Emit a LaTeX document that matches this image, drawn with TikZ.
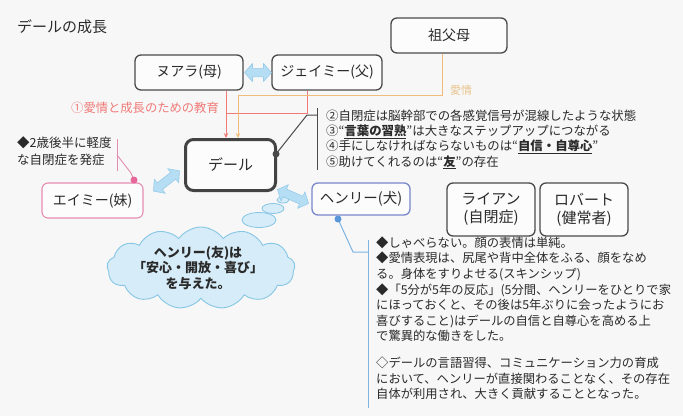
\documentclass[tikz,border=0pt]{standalone}
\usepackage{fontspec}
\setmainfont{Noto Sans CJK JP}
\usetikzlibrary{shapes.arrows,shapes.symbols,shapes.geometric,arrows.meta,calc}
\definecolor{bg}{HTML}{F7F7F7}
\definecolor{boxline}{HTML}{4A4A4A}
\definecolor{redl}{HTML}{F07A78}
\definecolor{orl}{HTML}{F2BC7A}
\definecolor{orltext}{HTML}{E8C48E}
\definecolor{arrfill}{HTML}{B5DDF3}
\definecolor{arrdraw}{HTML}{98CCEA}
\definecolor{pinkl}{HTML}{E48DB0}
\definecolor{pinkdot}{HTML}{E8679A}
\definecolor{henryb}{HTML}{7A88CC}
\definecolor{henryl}{HTML}{7DB4E2}
\definecolor{henrydot}{HTML}{5A96DA}
\definecolor{cloudfill}{HTML}{D6ECF8}
\definecolor{clouddraw}{HTML}{86C6E4}
\definecolor{txt}{HTML}{2A2A2A}
\tikzset{
  person/.style={draw=boxline, line width=1.3pt, rounded corners=6pt, fill=white!60!bg, text=txt,
    font=\fontsize{14}{17}\selectfont, align=center, inner sep=0pt},
  fatarrowstyle/.style={fill=arrfill, draw=arrdraw, line width=0.6pt, line join=round},
  bubble/.style={ellipse, fill=cloudfill, draw=clouddraw, line width=0.8pt, inner sep=0pt},
  note/.style={text=txt, align=left, anchor=north west, inner sep=0pt,
    font=\fontsize{12.5}{15.5}\selectfont},
  redarrow/.style={draw=redl, line width=1pt, -{Stealth[length=5pt,width=4.5pt]}},
  orarrow/.style={draw=orl, line width=1pt, -{Stealth[length=5pt,width=4.5pt]}},
}
% fat double arrow: center x, center y, angle, length
\newcommand{\fatarr}[4]{%
  \begin{scope}[shift={(#1,#2)},rotate=#3]
  \pgfmathsetmacro\hl{#4/2}
  \filldraw[fatarrowstyle] (-\hl,0) -- (-\hl+8,-9) -- (-\hl+8,-4.2) -- (\hl-8,-4.2) -- (\hl-8,-9)
    -- (\hl,0) -- (\hl-8,9) -- (\hl-8,4.2) -- (-\hl+8,4.2) -- (-\hl+8,9) -- cycle;
  \end{scope}}
\begin{document}
\begin{tikzpicture}[x=1pt,y=-1pt]
\path[use as bounding box, fill=bg] (0,0) rectangle (683,416);

% title
\node[anchor=west, text=txt, font=\fontsize{15}{18}\selectfont, inner sep=0pt] (title) at (17,27) {デールの成長};

% people
\node[person, minimum width=108pt, minimum height=35pt] (nuala) at (189,72.5) {ヌアラ(母)};
\node[person, minimum width=110pt, minimum height=35pt] (jamie) at (327,72.5) {ジェイミー(父)};
\node[person, minimum width=116pt, minimum height=35pt] (grand) at (449,35.5) {祖父母};
\node[person, draw=boxline!90!black, line width=3pt, rounded corners=8pt, minimum width=90pt, minimum height=51pt, font=\fontsize{15}{18}\selectfont] (dale) at (230.5,165) {デール};
\node[person, draw=pinkl, line width=1.1pt, minimum width=101pt, minimum height=35pt] (amy) at (92.5,200.5) {エイミー(妹)};
\node[person, draw=henryb, line width=1.3pt, minimum width=98pt, minimum height=32pt, font=\fontsize{14.5}{17}\selectfont] (henry) at (361,199) {ヘンリー(犬)};
\node[person, minimum width=88pt, minimum height=53pt, font=\fontsize{15}{18}\selectfont] (ryan) at (491,209.5) {ライアン\\(自閉症)};
\node[person, minimum width=88pt, minimum height=53pt, font=\fontsize{15}{18}\selectfont] (robert) at (584,209.5) {ロバート\\(健常者)};

% thought bubbles and cloud
\node[bubble, minimum width=7pt, minimum height=4pt] (b0) at (289,193) {};
\node[bubble, minimum width=12pt, minimum height=6pt] (b1) at (283,200) {};
\node[bubble, minimum width=22pt, minimum height=10pt] (b2) at (273,208.5) {};
\node[bubble, minimum width=34pt, minimum height=15pt] (b3) at (259,220) {};
\node[cloud, cloud puffs=13, cloud puff arc=110, aspect=2.3, fill=cloudfill, draw=clouddraw, line width=0.9pt,
  minimum width=188pt, minimum height=82pt, inner sep=0pt] (cloud) at (201,268) {};
\node[text=txt, align=center, font=\fontsize{13}{15.8}\bfseries\selectfont, inner sep=0pt] (ctext) at (198,268) {ヘンリー(友)は\\「安心・開放・喜び」\\を与えた。};

% fat double arrows
\coordinate (a1) at ($(nuala.east)!0.5!(jamie.west)$);
\path (a1); \pgfgetlastxy{\axx}{\ayy}
\fatarr{258}{72.5}{0}{27}
\fatarr{166.5}{181}{38}{33}
\fatarr{293}{196.5}{-24}{34}

% education lines (red)
\coordinate (rx) at (226,0);
\coordinate (jx) at (307,0);
\coordinate (ry) at (0,113);
\draw[redarrow] (nuala.south -| rx) -- (dale.north -| rx);
\draw[draw=redl, line width=1pt] (jamie.south -| jx) -- (jx |- ry) -- (rx |- ry);
\node[anchor=east, text=redl, font=\fontsize{12.3}{15}\selectfont, inner sep=0pt] (edu) at (219,108) {①愛情と成長のための教育};

% love line (orange)
\coordinate (ox) at (442,0);
\coordinate (ox2) at (238,0);
\coordinate (oy) at (0,95);
\draw[orarrow] (grand.south -| ox) -- (ox |- oy) -- (ox2 |- oy) -- (dale.north -| ox2);
\node[anchor=west, text=orltext, font=\fontsize{11}{13}\selectfont, inner sep=0pt] (love) at (450,90) {愛情};

% Dale annotation
\coordinate (dd) at ($(dale.east)+(-1,-11)$);
\coordinate (db1) at (307,115);
\coordinate (db2) at (317,115);
\coordinate (dbt) at (317,108);
\coordinate (dbb) at (317,170);
\draw[boxline, line width=1pt] (dd) -- (db1) -- (db2);
\draw[boxline, line width=1pt] (dbt) -- (dbb);
\fill[boxline] (dd) circle (3.5pt);
\node[note, font=\fontsize{12.4}{15.3}\selectfont] (dnote) at (326,109.5) {②自閉症は脳幹部での各感覚信号が混線したような状態\\
③“\underline{\textbf{言葉の習熟}}”は大きなステップアップにつながる\\
④手にしなければならないものは“\underline{\textbf{自信・自尊心}}”\\
⑤助けてくれるのは“\underline{\textbf{友}}”の存在};

% Amy annotation
\coordinate (ad) at (134,180);
\coordinate (av1) at (117,139);
\coordinate (av2) at (117,171);
\coordinate (av3) at (117,155);
\coordinate (av4) at (131,173);
\draw[pinkl, line width=0.9pt] (av1) -- (av2);
\draw[pinkl, line width=0.9pt] (av3) -- (av4) -- (ad);
\fill[pinkdot] (ad) circle (3.5pt);
\node[note, font=\fontsize{12.5}{17}\selectfont] (anote) at (17,136) {◆2歳後半に軽度\\な自閉症を発症};

% Henry annotation
\coordinate (hd) at (338,219);
\coordinate (h1) at (353,252);
\coordinate (h2) at (368,252);
\coordinate (ht) at (368,240);
\coordinate (hb) at (368,408);
\draw[henryl, line width=1pt] (hd) -- (h1) -- (h2);
\draw[henryl, line width=1pt] (ht) -- (hb);
\fill[henrydot] (hd) circle (3.5pt);
\node[note, font=\fontsize{12.3}{15.6}\selectfont] (hnote) at (376,236.5) {◆しゃべらない。顔の表情は単純。\\
◆愛情表現は、尻尾や背中全体をふる、顔をなめ\\
る。身体をすりよせる(スキンシップ)\\
◆「5分が5年の反応」(5分間、ヘンリーをひとりで家\\
にほっておくと、その後は5年ぶりに会ったようにお\\
喜びすること)はデールの自信と自尊心を高める上\\
で驚異的な働きをした。\\[11pt]
◇デールの言語習得、コミュニケーション力の育成\\
において、ヘンリーが直接関わることなく、その存在\\
自体が利用され、大きく貢献することとなった。};
\end{tikzpicture}
\end{document}
